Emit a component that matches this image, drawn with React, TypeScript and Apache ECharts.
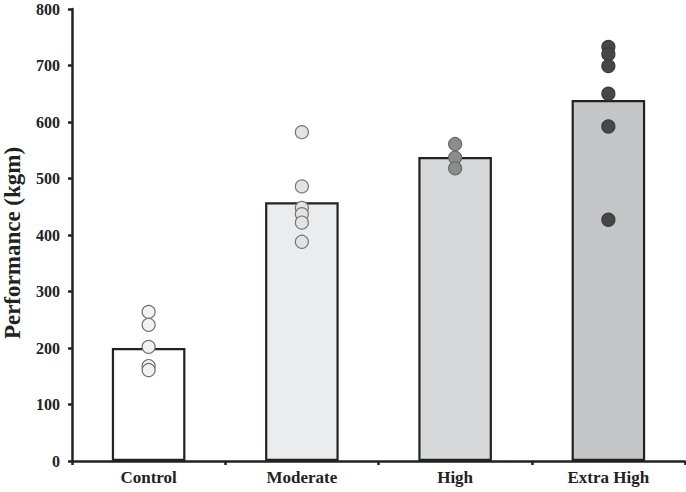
import React, { useEffect, useRef } from "react";
import * as echarts from "echarts";

const categories = ["Control", "Moderate", "High", "Extra High"];
const barMeans = [200, 458, 538, 639];
const barColors = ["#ffffff", "#ebecee", "#d7d8da", "#c5c6c8"];
const controlPts = [264, 241, 202, 168, 161];
const moderatePts = [582, 486, 448, 437, 422, 388];
const highPts = [561, 537, 518];
const extraHighPts = [733, 720, 699, 650, 592, 427];
const pointGroups = [controlPts, moderatePts, highPts, extraHighPts];
const pointFills = ["#f2f2f2", "#e3e3e3", "#8c8c8c", "#474747"];
const pointBorders = ["#6e6e6e", "#757575", "#6a6a6a", "#3a3a3a"];
const yTicks = [0, 100, 200, 300, 400, 500, 600, 700, 800];

export default function App() {
  const ref = useRef<HTMLDivElement>(null);
  useEffect(() => {
    if (!ref.current) return;
    const chart = echarts.init(ref.current, null, { renderer: "svg" });
    const font = "Liberation Serif";
    const scatterSeries = pointGroups.map((pts, gi) => ({
      type: "scatter",
      data: pts.map((v) => [gi, v]),
      symbol: "circle",
      symbolSize: 13,
      z: 5,
      itemStyle: {
        color: pointFills[gi],
        borderColor: pointBorders[gi],
        borderWidth: 1.2,
        opacity: 1,
      },
    }));
    chart.setOption({
      animation: false,
      backgroundColor: "#ffffff",
      grid: {
        left: 72,
        right: 1,
        top: 9,
        bottom: 31,
        containLabel: false,
        outerBoundsMode: "none",
      },
      xAxis: {
        type: "category",
        data: categories,
        boundaryGap: true,
        axisLine: { show: true, lineStyle: { color: "#222", width: 2.5 } },
        axisTick: { show: true, length: 4, lineStyle: { color: "#222", width: 2.5 } },
        axisLabel: {
          color: "#222",
          fontFamily: font,
          fontWeight: "bold",
          fontSize: 17,
          margin: 8,
        },
      },
      yAxis: {
        type: "value",
        min: yTicks[0],
        max: yTicks[yTicks.length - 1],
        interval: 100,
        name: "Performance (kgm)",
        nameLocation: "middle",
        nameGap: 48,
        nameTextStyle: {
          color: "#222",
          fontFamily: font,
          fontWeight: "bold",
          fontSize: 23,
          padding: [0, 16, 0, 0],
        },
        axisLine: { show: true, lineStyle: { color: "#222", width: 2.5 } },
        axisTick: { show: true, length: 4, lineStyle: { color: "#222", width: 2.5 } },
        axisLabel: {
          color: "#222",
          fontFamily: font,
          fontWeight: "bold",
          fontSize: 16,
          margin: 12,
        },
        splitLine: { show: false },
      },
      series: [
        {
          type: "bar",
          barWidth: "48%",
          z: 2,
          data: barMeans.map((v, i) => ({
            value: v,
            itemStyle: { color: barColors[i], borderColor: "#222", borderWidth: 2.2 },
          })),
        },
        ...scatterSeries,
      ],
    });
    return () => chart.dispose();
  }, []);
  return (
    <div
      ref={ref}
      style={{ position: "absolute", left: 0, top: 0, width: 686, height: 492 }}
    />
  );
}
